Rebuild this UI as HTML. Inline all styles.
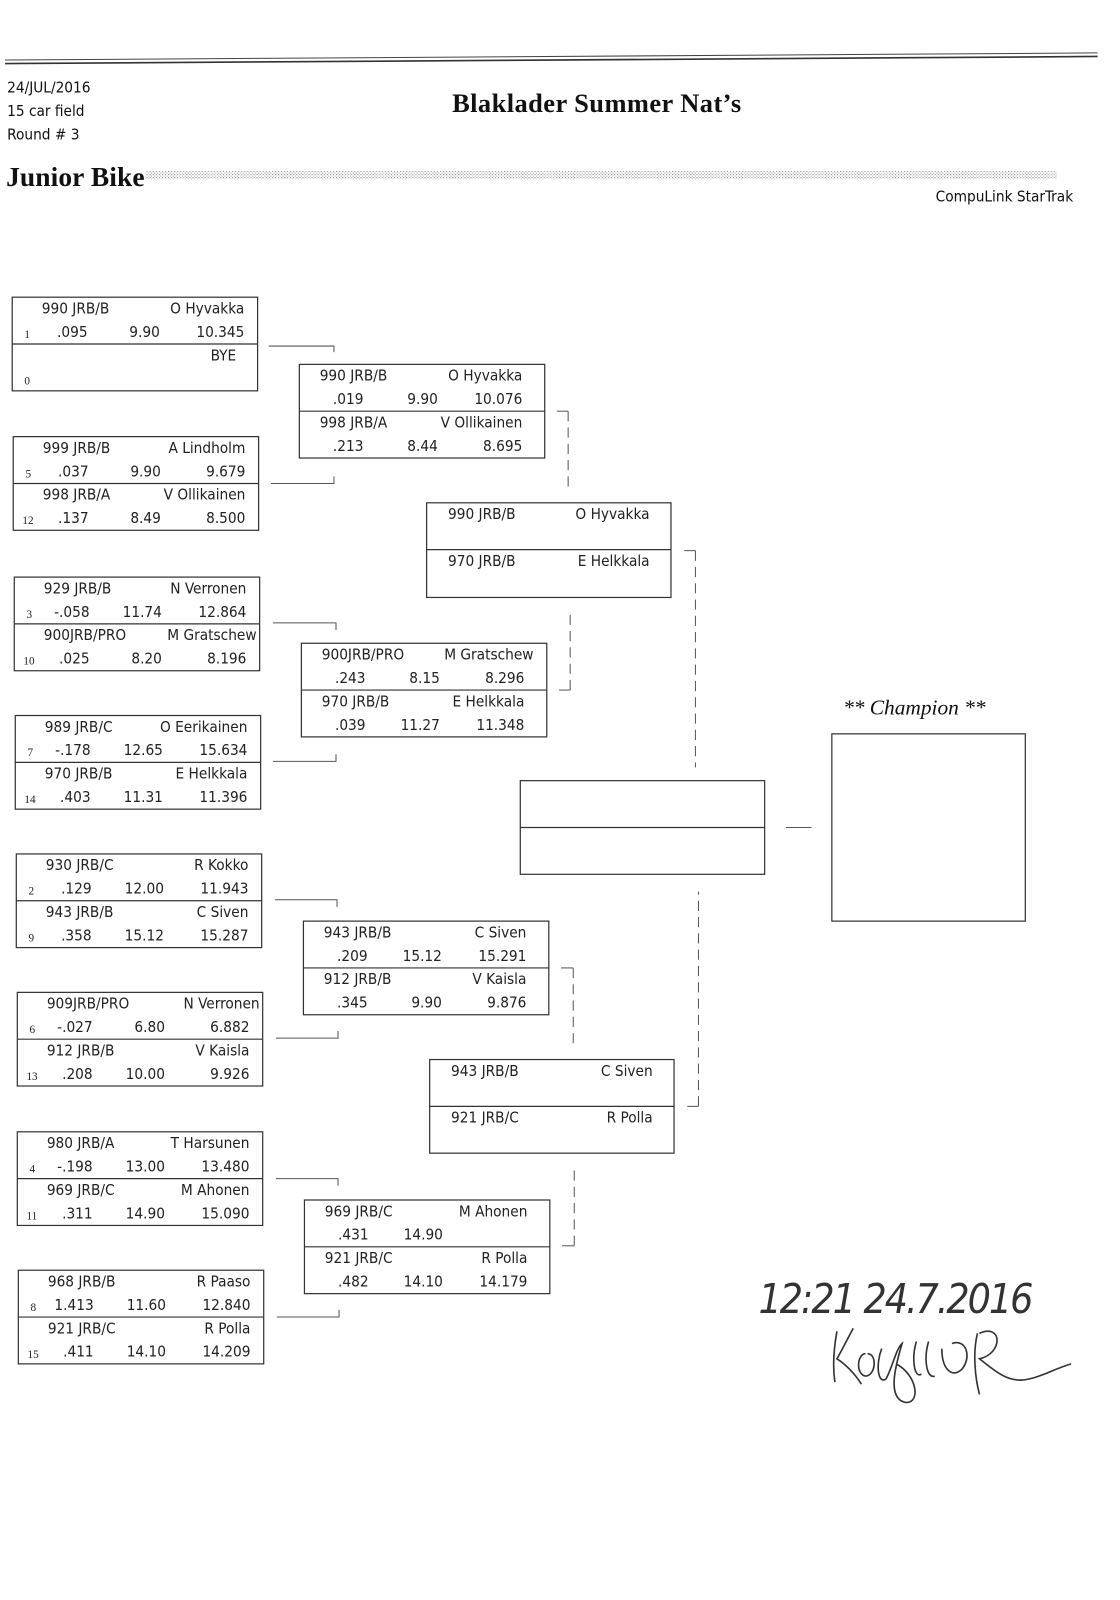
<!DOCTYPE html>
<html><head><meta charset="utf-8"><style>
html,body{margin:0;padding:0;background:#fff;}
svg{display:block;}
.m{font-family:"DejaVu Sans Condensed","Liberation Sans Narrow","Liberation Sans",sans-serif;font-size:15px;fill:#222;}
.s{font-family:"Liberation Serif",serif;font-size:11px;fill:#222;}
.e{text-anchor:end;}
.b{fill:none;stroke:#333;stroke-width:1.2;}
.c{fill:none;stroke:#555;stroke-width:1;}
.d{fill:none;stroke:#555;stroke-width:1;stroke-dasharray:10 6;}
</style></head><body>
<svg width="1120" height="1600" viewBox="0 0 1100 1572" preserveAspectRatio="none" xmlns="http://www.w3.org/2000/svg">
<defs><pattern id="dots" width="3" height="3" patternUnits="userSpaceOnUse"><rect width="3" height="3" fill="#fff"/><rect width="1" height="1" fill="#888"/><rect x="1.5" y="1.5" width="1" height="1" fill="#999"/></pattern></defs>
<line x1="5" y1="59" x2="1078" y2="52" stroke="#444" stroke-width="1"/>
<line x1="5" y1="62.5" x2="1078" y2="55.5" stroke="#333" stroke-width="1.6"/>
<g font-family="'DejaVu Sans Condensed','Liberation Sans',sans-serif" font-size="15" fill="#111">
<text x="7" y="91">24/JUL/2016</text><text x="7" y="114">15 car field</text><text x="7" y="137">Round # 3</text>
<text x="1054" y="198" text-anchor="end">CompuLink StarTrak</text></g>
<text x="444" y="110" font-family="'Liberation Serif',serif" font-weight="bold" font-size="26" fill="#111" textLength="284">Blaklader Summer Nat’s</text>
<text x="6" y="183" font-family="'Liberation Serif',serif" font-weight="bold" font-size="27" fill="#111" textLength="136">Junior Bike</text>
<rect x="143" y="168" width="895" height="8" fill="url(#dots)"/>

<!-- Round 1 -->
<g transform="translate(12,292)"><rect class="b" width="241" height="92"/><line class="b" x1="0" y1="46" x2="241" y2="46"/>
<text class="m" x="29" y="16">990 JRB/B</text><text class="m e" x="228" y="16">O Hyvakka</text>
<text class="s" x="12" y="40">1</text><text class="m e" x="74" y="39">.095</text><text class="m e" x="145" y="39">9.90</text><text class="m e" x="228" y="39">10.345</text>
<text class="m e" x="220" y="62">BYE</text><text class="s" x="12" y="86">0</text></g>

<g transform="translate(13,429)"><rect class="b" width="241" height="92"/><line class="b" x1="0" y1="46" x2="241" y2="46"/>
<text class="m" x="29" y="16">999 JRB/B</text><text class="m e" x="228" y="16">A Lindholm</text>
<text class="s" x="12" y="40">5</text><text class="m e" x="74" y="39">.037</text><text class="m e" x="145" y="39">9.90</text><text class="m e" x="228" y="39">9.679</text>
<text class="m" x="29" y="62">998 JRB/A</text><text class="m e" x="228" y="62">V Ollikainen</text>
<text class="s" x="9" y="86">12</text><text class="m e" x="74" y="85">.137</text><text class="m e" x="145" y="85">8.49</text><text class="m e" x="228" y="85">8.500</text></g>

<g transform="translate(14,567)"><rect class="b" width="241" height="92"/><line class="b" x1="0" y1="46" x2="241" y2="46"/>
<text class="m" x="29" y="16">929 JRB/B</text><text class="m e" x="228" y="16">N Verronen</text>
<text class="s" x="12" y="40">3</text><text class="m e" x="74" y="39">-.058</text><text class="m e" x="145" y="39">11.74</text><text class="m e" x="228" y="39">12.864</text>
<text class="m" x="29" y="62">900JRB/PRO</text><text class="m e" x="238" y="62">M Gratschew</text>
<text class="s" x="9" y="86">10</text><text class="m e" x="74" y="85">.025</text><text class="m e" x="145" y="85">8.20</text><text class="m e" x="228" y="85">8.196</text></g>

<g transform="translate(15,703)"><rect class="b" width="241" height="92"/><line class="b" x1="0" y1="46" x2="241" y2="46"/>
<text class="m" x="29" y="16">989 JRB/C</text><text class="m e" x="228" y="16">O Eerikainen</text>
<text class="s" x="12" y="40">7</text><text class="m e" x="74" y="39">-.178</text><text class="m e" x="145" y="39">12.65</text><text class="m e" x="228" y="39">15.634</text>
<text class="m" x="29" y="62">970 JRB/B</text><text class="m e" x="228" y="62">E Helkkala</text>
<text class="s" x="9" y="86">14</text><text class="m e" x="74" y="85">.403</text><text class="m e" x="145" y="85">11.31</text><text class="m e" x="228" y="85">11.396</text></g>

<g transform="translate(16,839)"><rect class="b" width="241" height="92"/><line class="b" x1="0" y1="46" x2="241" y2="46"/>
<text class="m" x="29" y="16">930 JRB/C</text><text class="m e" x="228" y="16">R Kokko</text>
<text class="s" x="12" y="40">2</text><text class="m e" x="74" y="39">.129</text><text class="m e" x="145" y="39">12.00</text><text class="m e" x="228" y="39">11.943</text>
<text class="m" x="29" y="62">943 JRB/B</text><text class="m e" x="228" y="62">C Siven</text>
<text class="s" x="12" y="86">9</text><text class="m e" x="74" y="85">.358</text><text class="m e" x="145" y="85">15.12</text><text class="m e" x="228" y="85">15.287</text></g>

<g transform="translate(17,975)"><rect class="b" width="241" height="92"/><line class="b" x1="0" y1="46" x2="241" y2="46"/>
<text class="m" x="29" y="16">909JRB/PRO</text><text class="m e" x="238" y="16">N Verronen</text>
<text class="s" x="12" y="40">6</text><text class="m e" x="74" y="39">-.027</text><text class="m e" x="145" y="39">6.80</text><text class="m e" x="228" y="39">6.882</text>
<text class="m" x="29" y="62">912 JRB/B</text><text class="m e" x="228" y="62">V Kaisla</text>
<text class="s" x="9" y="86">13</text><text class="m e" x="74" y="85">.208</text><text class="m e" x="145" y="85">10.00</text><text class="m e" x="228" y="85">9.926</text></g>

<g transform="translate(17,1112)"><rect class="b" width="241" height="92"/><line class="b" x1="0" y1="46" x2="241" y2="46"/>
<text class="m" x="29" y="16">980 JRB/A</text><text class="m e" x="228" y="16">T Harsunen</text>
<text class="s" x="12" y="40">4</text><text class="m e" x="74" y="39">-.198</text><text class="m e" x="145" y="39">13.00</text><text class="m e" x="228" y="39">13.480</text>
<text class="m" x="29" y="62">969 JRB/C</text><text class="m e" x="228" y="62">M Ahonen</text>
<text class="s" x="9" y="86">11</text><text class="m e" x="74" y="85">.311</text><text class="m e" x="145" y="85">14.90</text><text class="m e" x="228" y="85">15.090</text></g>

<g transform="translate(18,1248)"><rect class="b" width="241" height="92"/><line class="b" x1="0" y1="46" x2="241" y2="46"/>
<text class="m" x="29" y="16">968 JRB/B</text><text class="m e" x="228" y="16">R Paaso</text>
<text class="s" x="12" y="40">8</text><text class="m e" x="74" y="39">1.413</text><text class="m e" x="145" y="39">11.60</text><text class="m e" x="228" y="39">12.840</text>
<text class="m" x="29" y="62">921 JRB/C</text><text class="m e" x="228" y="62">R Polla</text>
<text class="s" x="9" y="86">15</text><text class="m e" x="74" y="85">.411</text><text class="m e" x="145" y="85">14.10</text><text class="m e" x="228" y="85">14.209</text></g>

<!-- R1 connectors -->
<path class="c" d="M264 340 H328 V346"/><path class="c" d="M266 475 H328 V468"/>
<path class="c" d="M268 612 H330 V619"/><path class="c" d="M268 748 H330 V741"/>
<path class="c" d="M270 884 H331 V891"/><path class="c" d="M271 1020 H332 V1013"/>
<path class="c" d="M271 1158 H332 V1165"/><path class="c" d="M272 1294 H333 V1287"/>

<!-- Round 2 -->
<g transform="translate(294,358)"><rect class="b" width="241" height="92"/><line class="b" x1="0" y1="46" x2="241" y2="46"/>
<text class="m" x="20" y="16">990 JRB/B</text><text class="m e" x="219" y="16">O Hyvakka</text>
<text class="m e" x="63" y="39">.019</text><text class="m e" x="136" y="39">9.90</text><text class="m e" x="219" y="39">10.076</text>
<text class="m" x="20" y="62">998 JRB/A</text><text class="m e" x="219" y="62">V Ollikainen</text>
<text class="m e" x="63" y="85">.213</text><text class="m e" x="136" y="85">8.44</text><text class="m e" x="219" y="85">8.695</text></g>

<g transform="translate(296,632)"><rect class="b" width="241" height="92"/><line class="b" x1="0" y1="46" x2="241" y2="46"/>
<text class="m" x="20" y="16">900JRB/PRO</text><text class="m e" x="228" y="16">M Gratschew</text>
<text class="m e" x="63" y="39">.243</text><text class="m e" x="136" y="39">8.15</text><text class="m e" x="219" y="39">8.296</text>
<text class="m" x="20" y="62">970 JRB/B</text><text class="m e" x="219" y="62">E Helkkala</text>
<text class="m e" x="63" y="85">.039</text><text class="m e" x="136" y="85">11.27</text><text class="m e" x="219" y="85">11.348</text></g>

<g transform="translate(298,905)"><rect class="b" width="241" height="92"/><line class="b" x1="0" y1="46" x2="241" y2="46"/>
<text class="m" x="20" y="16">943 JRB/B</text><text class="m e" x="219" y="16">C Siven</text>
<text class="m e" x="63" y="39">.209</text><text class="m e" x="136" y="39">15.12</text><text class="m e" x="219" y="39">15.291</text>
<text class="m" x="20" y="62">912 JRB/B</text><text class="m e" x="219" y="62">V Kaisla</text>
<text class="m e" x="63" y="85">.345</text><text class="m e" x="136" y="85">9.90</text><text class="m e" x="219" y="85">9.876</text></g>

<g transform="translate(299,1179)"><rect class="b" width="241" height="92"/><line class="b" x1="0" y1="46" x2="241" y2="46"/>
<text class="m" x="20" y="16">969 JRB/C</text><text class="m e" x="219" y="16">M Ahonen</text>
<text class="m e" x="63" y="39">.431</text><text class="m e" x="136" y="39">14.90</text>
<text class="m" x="20" y="62">921 JRB/C</text><text class="m e" x="219" y="62">R Polla</text>
<text class="m e" x="63" y="85">.482</text><text class="m e" x="136" y="85">14.10</text><text class="m e" x="219" y="85">14.179</text></g>

<!-- R2 connectors -->
<path class="c" d="M547 404 H558"/><path class="d" d="M558 404 V482"/>
<path class="c" d="M549 678 H560"/><path class="d" d="M560 678 V602"/>
<path class="c" d="M551 951 H563"/><path class="d" d="M563 951 V1028"/>
<path class="c" d="M552 1224 H564"/><path class="d" d="M564 1224 V1150"/>

<!-- Round 3 -->
<g transform="translate(419,494)"><rect class="b" width="240" height="93"/><line class="b" x1="0" y1="46" x2="240" y2="46"/>
<text class="m" x="21" y="16">990 JRB/B</text><text class="m e" x="219" y="16">O Hyvakka</text>
<text class="m" x="21" y="62">970 JRB/B</text><text class="m e" x="219" y="62">E Helkkala</text></g>
<g transform="translate(422,1041)"><rect class="b" width="240" height="92"/><line class="b" x1="0" y1="46" x2="240" y2="46"/>
<text class="m" x="21" y="16">943 JRB/B</text><text class="m e" x="219" y="16">C Siven</text>
<text class="m" x="21" y="62">921 JRB/C</text><text class="m e" x="219" y="62">R Polla</text></g>

<path class="c" d="M672 541 H683"/><path class="d" d="M683 541 V754"/>
<path class="c" d="M675 1087 H686"/><path class="d" d="M686 1087 V876"/>

<!-- Final -->
<rect class="b" x="511" y="767" width="240" height="92"/><line class="b" x1="511" y1="813" x2="751" y2="813"/>
<path class="c" d="M772 813 H797"/>
<text x="898" y="702" text-anchor="middle" font-family="'Liberation Serif',serif" font-style="italic" font-size="21" fill="#111">** Champion **</text>
<rect class="b" x="817" y="721" width="190" height="184"/>

<!-- handwriting -->
<text x="745" y="1290" font-family="'DejaVu Sans Condensed','Liberation Sans',sans-serif" font-size="40" fill="#333" font-style="italic" textLength="270">12:21 24.7.2016</text>
<path d="M822 1308 C818 1330 818 1345 820 1358 M838 1305 C830 1320 825 1330 822 1335 C830 1340 840 1350 846 1360 M850 1330 C842 1330 840 1350 850 1352 C860 1352 862 1330 852 1330 M866 1325 C860 1340 862 1360 870 1355 C876 1345 880 1325 886 1320 C880 1340 870 1375 890 1378 C905 1378 900 1350 880 1340 M900 1318 C895 1335 898 1355 905 1350 M912 1318 C907 1335 910 1355 918 1352 M925 1325 C925 1345 935 1355 945 1345 C955 1332 948 1315 935 1320 M960 1310 C955 1330 958 1355 962 1370 M962 1310 C985 1300 985 1330 962 1335 C975 1345 990 1360 1010 1355 C1025 1352 1035 1345 1052 1340" fill="none" stroke="#333" stroke-width="1.6"/>
</svg>
</body></html>
